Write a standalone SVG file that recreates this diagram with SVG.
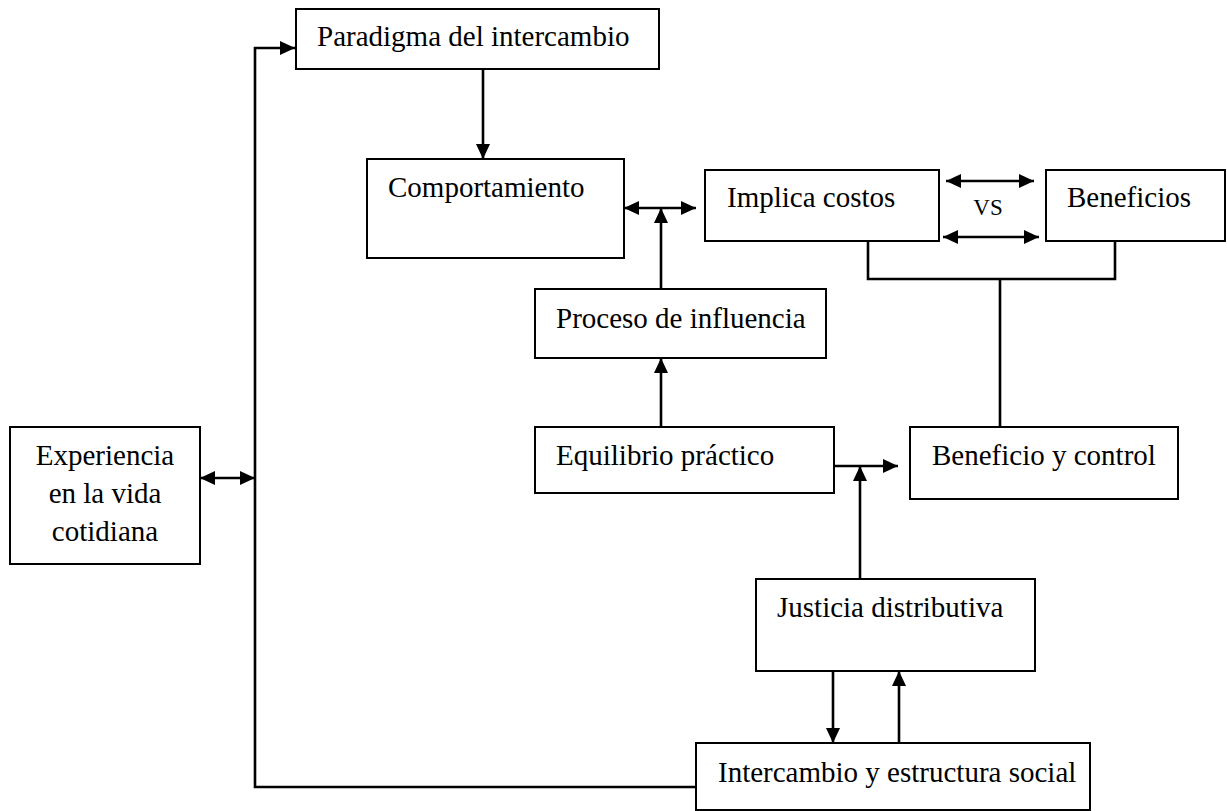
<svg xmlns="http://www.w3.org/2000/svg" width="1227" height="811" viewBox="0 0 1227 811">
  <style>
    .box { fill: #ffffff; stroke: #000000; stroke-width: 2; }
    .lbl { font-family: "Liberation Serif", "Times New Roman", serif; font-size: 29px; fill: #000000; }
    .ln { fill: none; stroke: #000000; stroke-width: 2.6; }
  </style>
  <defs>
    <marker id="ah" viewBox="0 0 15 14" refX="15" refY="7" markerWidth="15" markerHeight="14" markerUnits="userSpaceOnUse" orient="auto-start-reverse">
      <path d="M0,0 L15,7 L0,14 z" fill="#000000"/>
    </marker>
  </defs>
  <rect width="1227" height="811" fill="#ffffff"/>

  <!-- nodes -->
  <g id="paradigma">
    <rect class="box" x="296" y="9" width="363" height="60"/>
    <text class="lbl" x="317" y="46">Paradigma del intercambio</text>
  </g>
  <g id="comportamiento">
    <rect class="box" x="367" y="159" width="257" height="99"/>
    <text class="lbl" x="388" y="197">Comportamiento</text>
  </g>
  <g id="implica">
    <rect class="box" x="705" y="170" width="234" height="71"/>
    <text class="lbl" x="727" y="207">Implica costos</text>
  </g>
  <g id="vs">
    <text class="lbl" x="988" y="215" text-anchor="middle" style="font-size:23px">VS</text>
  </g>
  <g id="beneficios">
    <rect class="box" x="1046" y="170" width="179" height="71"/>
    <text class="lbl" x="1067" y="207">Beneficios</text>
  </g>
  <g id="proceso">
    <rect class="box" x="535" y="289" width="291" height="69"/>
    <text class="lbl" x="556" y="328">Proceso de influencia</text>
  </g>
  <g id="experiencia">
    <rect class="box" x="10" y="427" width="190" height="137"/>
    <text class="lbl" x="105" y="465" text-anchor="middle">Experiencia</text>
    <text class="lbl" x="105" y="503" text-anchor="middle">en la vida</text>
    <text class="lbl" x="105" y="541" text-anchor="middle">cotidiana</text>
  </g>
  <g id="equilibrio">
    <rect class="box" x="535" y="427" width="299" height="66"/>
    <text class="lbl" x="556" y="465">Equilibrio práctico</text>
  </g>
  <g id="beneficio-control">
    <rect class="box" x="910" y="427" width="268" height="72"/>
    <text class="lbl" x="932" y="465">Beneficio y control</text>
  </g>
  <g id="justicia">
    <rect class="box" x="756" y="579" width="279" height="92"/>
    <text class="lbl" x="777" y="617">Justicia distributiva</text>
  </g>
  <g id="intercambio">
    <rect class="box" x="696" y="743" width="394" height="67"/>
    <text class="lbl" x="718" y="782">Intercambio y estructura social</text>
  </g>

  <!-- connectors -->
  <g id="connectors">
    <path class="ln" d="M483,69 V159" marker-end="url(#ah)"/>
    <path class="ln" d="M696,787 H255 V48 H295" marker-end="url(#ah)"/>
    <path class="ln" d="M200,478 H255" marker-start="url(#ah)" marker-end="url(#ah)"/>
    <path class="ln" d="M624,208 H696" marker-start="url(#ah)" marker-end="url(#ah)"/>
    <path class="ln" d="M661,289 V208" marker-end="url(#ah)"/>
    <path class="ln" d="M661,427 V358" marker-end="url(#ah)"/>
    <path class="ln" d="M946,181 H1034" marker-start="url(#ah)" marker-end="url(#ah)"/>
    <path class="ln" d="M943,237 H1039" marker-start="url(#ah)" marker-end="url(#ah)"/>
    <path class="ln" d="M868,241 V279 H1115 V241"/>
    <path class="ln" d="M1000,279 V427"/>
    <path class="ln" d="M834,466 H898" marker-end="url(#ah)"/>
    <path class="ln" d="M860,579 V466" marker-end="url(#ah)"/>
    <path class="ln" d="M833,671 V743" marker-end="url(#ah)"/>
    <path class="ln" d="M899,743 V671" marker-end="url(#ah)"/>
  </g>
</svg>
